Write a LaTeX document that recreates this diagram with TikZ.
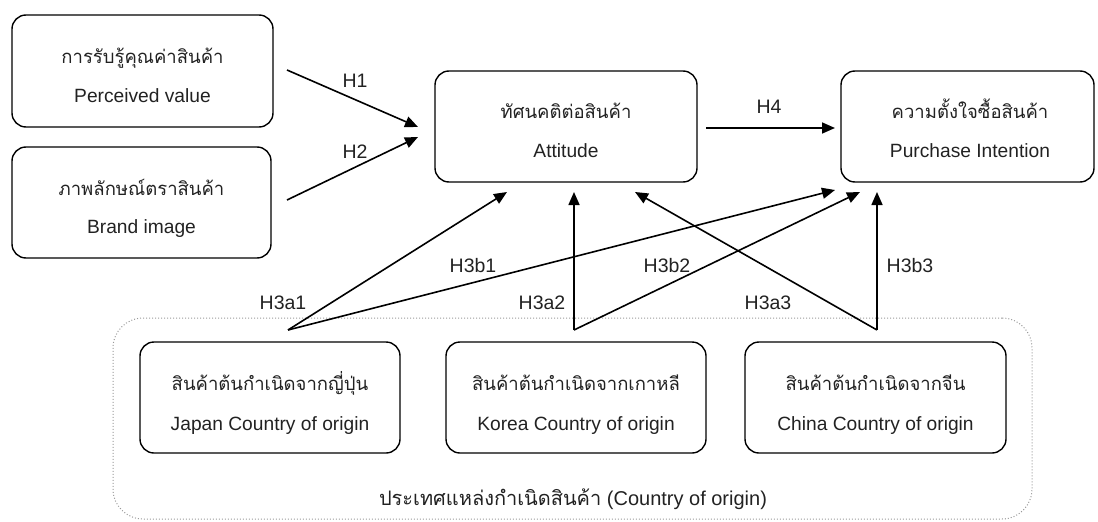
\documentclass[tikz,border=0pt]{standalone}
\usepackage{fontspec}
\setmainfont{Liberation Sans}
\newfontfamily\thai[Script=Thai]{Loma}
\usetikzlibrary{arrows.meta}
\definecolor{txt}{HTML}{222222}
\begin{document}
\begin{tikzpicture}[x=1pt,y=-1pt,
  box/.style={draw=black, line width=1.4pt, rounded corners=14pt, inner sep=0pt},
  th/.style={anchor=base, inner sep=0pt, text=txt, font=\thai\fontsize{18.5}{22}\selectfont},
  en/.style={anchor=base, inner sep=0pt, text=txt, font=\fontsize{19.2}{22}\selectfont},
  arr/.style={line width=1.6pt, -{Triangle[length=13pt,width=11pt]}},
  lab/.style={font=\fontsize{19.5}{22}\selectfont, text=txt},
  outer/.style={draw=black!40, line width=1pt, dotted, rounded corners=30pt}]
\useasboundingbox (0,0) rectangle (1098,522);

% outer group
\node[outer, minimum width=919pt, minimum height=201pt, inner sep=0pt] (coo) at (572.5,418.5) {};
\node[anchor=base, text=txt, font=\fontsize{20}{24}\selectfont] (cootxt) at (573,505)
  {{\thai ประเทศแหล่งกำเนิดสินค้า} (Country of origin)};

% boxes
\node[box, minimum width=261pt, minimum height=112pt] (pv) at (142.5,71) {};
\node[box, minimum width=259pt, minimum height=111pt] (bi) at (141.5,202.5) {};
\node[box, minimum width=262pt, minimum height=111pt] (att) at (566,126.5) {};
\node[box, minimum width=253pt, minimum height=111pt] (pi) at (967.5,126.5) {};
\node[box, minimum width=260pt, minimum height=111pt] (jp) at (270,397.5) {};
\node[box, minimum width=260pt, minimum height=111pt] (kr) at (576,397.5) {};
\node[box, minimum width=261pt, minimum height=111pt] (cn) at (875.5,397.5) {};

% box texts
\node[th] (pvTh) at (142.5,63) {การรับรู้คุณค่าสินค้า};
\node[en] (pvEn) at (142.5,102) {Perceived value};
\node[th] (biTh) at (141.5,195) {ภาพลักษณ์ตราสินค้า};
\node[en] (biEn) at (141.5,233.5) {Brand image};
\node[th] (attTh) at (566,118.5) {ทัศนคติต่อสินค้า};
\node[en] (attEn) at (566,157.5) {Attitude};
\node[th] (piTh) at (970,118.5) {ความตั้งใจซื้อสินค้า};
\node[en] (piEn) at (970,157.5) {Purchase Intention};
\node[th] (jpTh) at (270,390) {สินค้าต้นกำเนิดจากญี่ปุ่น};
\node[en] (jpEn) at (270,430) {Japan Country of origin};
\node[th] (krTh) at (576,390) {สินค้าต้นกำเนิดจากเกาหลี};
\node[en] (krEn) at (576,430) {Korea Country of origin};
\node[th] (cnTh) at (875.5,390) {สินค้าต้นกำเนิดจากจีน};
\node[en] (cnEn) at (875.5,430) {China Country of origin};

% connector end points
\coordinate (pvO) at (287,70);
\coordinate (biO) at (287,200);
\coordinate (attI1) at (418,127);
\coordinate (attI2) at (418,137);
\coordinate (attO) at (706,128);
\coordinate (piI) at (835,128);
\coordinate (jpO) at (288,330);
\coordinate (krO) at (574,330);
\coordinate (cnO) at (877,330);
\coordinate (attB1) at (507,192);
\coordinate (attB2) at (574,192);
\coordinate (attB3) at (635,192);
\coordinate (piB1) at (835,190);
\coordinate (piB2) at (860,192);
\coordinate (piB3) at (877,192);

\draw[arr] (pvO) -- (attI1);
\draw[arr] (biO) -- (attI2);
\draw[arr] (attO) -- (piI);
\draw[arr] (jpO) -- (attB1);
\draw[arr] (jpO) -- (piB1);
\draw[arr] (krO) -- (attB2);
\draw[arr] (krO) -- (piB2);
\draw[arr] (cnO) -- (attB3);
\draw[arr] (cnO) -- (piB3);

% labels
\node[lab] (h1) at (355,81) {H1};
\node[lab] (h2) at (355,152) {H2};
\node[lab] (h4) at (769,107) {H4};
\node[lab] (h3a1) at (283,303) {H3a1};
\node[lab] (h3b1) at (473,266) {H3b1};
\node[lab] (h3a2) at (542,303) {H3a2};
\node[lab] (h3b2) at (667,266) {H3b2};
\node[lab] (h3a3) at (768,303) {H3a3};
\node[lab] (h3b3) at (910,266) {H3b3};
\end{tikzpicture}
\end{document}
